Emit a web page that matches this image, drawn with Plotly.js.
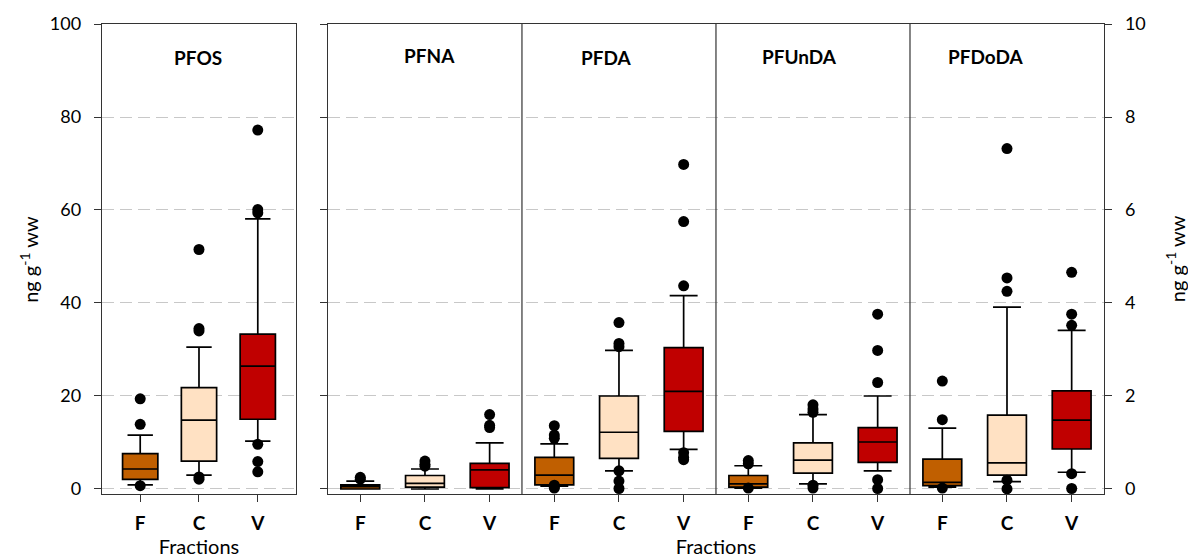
<!DOCTYPE html>
<html>
<head>
<meta charset="utf-8">
<script src="https://cdn.plot.ly/plotly-3.0.1.min.js"></script>
<style>html,body{margin:0;padding:0;background:#fff;}#chart{width:1188px;height:558px;}</style>
</head>
<body>
<div id="chart"></div>
<script>
// ---- data ----
const fractions = ['F', 'C', 'V'];
const fillColors = ['#C05F00', '#FFE1C3', '#C00000'];

// PFOS (left axis, ng g-1 ww), order F, C, V
const pfosQ1 = [2.05, 6.0, 15.0];
const pfosMedian = [4.3, 14.8, 26.4];
const pfosQ3 = [7.6, 21.8, 33.3];
const pfosLower = [0.9, 3.0, 10.3];
const pfosUpper = [11.6, 30.5, 58.1];
const pfosOutliersF = [19.4, 13.9, 0.7];
const pfosOutliersC = [51.5, 34.0, 34.5, 2.6, 2.1];
const pfosOutliersV = [77.2, 60.1, 59.4, 9.6, 5.9, 3.7];

// Right axis compounds
const compounds = ['PFNA', 'PFDA', 'PFUnDA', 'PFDoDA'];
// values per fraction, in compound order
const fQ1 = [0.0, 0.09, 0.04, 0.07];
const fMedian = [0.05, 0.30, 0.11, 0.14];
const fQ3 = [0.09, 0.68, 0.29, 0.64];
const fLower = [0.0, 0.06, 0.02, 0.04];
const fUpper = [0.17, 0.97, 0.50, 1.31];

const cQ1 = [0.04, 0.66, 0.34, 0.30];
const cMedian = [0.12, 1.22, 0.62, 0.56];
const cQ3 = [0.29, 2.00, 0.99, 1.59];
const cLower = [0.0, 0.39, 0.11, 0.16];
const cUpper = [0.43, 2.98, 1.60, 3.91];

const vQ1 = [0.03, 1.24, 0.57, 0.86];
const vMedian = [0.41, 2.10, 1.01, 1.48];
const vQ3 = [0.55, 3.04, 1.32, 2.11];
const vLower = [0.0, 0.85, 0.39, 0.36];
const vUpper = [0.99, 4.16, 2.00, 3.41];

// outliers per compound, per fraction
const pfnaOutliers = {F: [0.25, 0.21], C: [0.60, 0.53, 0.49], V: [1.60, 1.37, 1.32]};
const pfdaOutliers = {F: [1.36, 1.16, 1.09, 0.08, 0.04, 0.02], C: [3.58, 3.13, 3.06, 0.39, 0.17, 0.01], V: [6.98, 5.75, 4.37, 0.78, 0.68, 0.63]};
const pfundaOutliers = {F: [0.61, 0.54, 0.02], C: [1.81, 1.72, 1.65, 0.08, 0.02], V: [3.76, 2.98, 2.29, 0.20, 0.01]};
const pfdodaOutliers = {F: [2.32, 1.49, 0.02], C: [7.32, 4.54, 4.25, 0.19, 0.0], V: [4.66, 3.76, 3.52, 0.33, 0.01]};

const leftTicks = [0, 20, 40, 60, 80, 100];
const rightTicks = [0, 2, 4, 6, 8, 10];

// ---- build traces ----
const FONT = 'Lato, "Open Sans", sans-serif';
const traces = [];
const boxLine = {color: '#000', width: 1.7};

fractions.forEach((fr, i) => {
  traces.push({
    type: 'box', xaxis: 'x', yaxis: 'y', x: [i],
    q1: [pfosQ1[i]], median: [pfosMedian[i]], q3: [pfosQ3[i]],
    lowerfence: [pfosLower[i]], upperfence: [pfosUpper[i]],
    fillcolor: fillColors[i], line: boxLine, width: 0.6, whiskerwidth: 0.72,
    boxpoints: false, showlegend: false, hoverinfo: 'skip', name: 'PFOS ' + fr
  });
});
const pfosOut = [pfosOutliersF, pfosOutliersC, pfosOutliersV];
const lx = [], ly = [];
pfosOut.forEach((arr, i) => arr.forEach(v => { lx.push(i); ly.push(v); }));
traces.push({type: 'scatter', mode: 'markers', xaxis: 'x', yaxis: 'y', x: lx, y: ly,
  marker: {color: '#000', size: 11}, showlegend: false, hoverinfo: 'skip', cliponaxis: false});

const rightStats = [
  [fQ1, fMedian, fQ3, fLower, fUpper],
  [cQ1, cMedian, cQ3, cLower, cUpper],
  [vQ1, vMedian, vQ3, vLower, vUpper]
];
fractions.forEach((fr, i) => {
  const s = rightStats[i];
  traces.push({
    type: 'box', xaxis: 'x2', yaxis: 'y2',
    x: compounds.map((c, k) => k * 3 + i),
    q1: s[0], median: s[1], q3: s[2], lowerfence: s[3], upperfence: s[4],
    fillcolor: fillColors[i], line: boxLine, width: 0.6, whiskerwidth: 0.72,
    boxpoints: false, showlegend: false, hoverinfo: 'skip', name: fr
  });
});
const rOut = [pfnaOutliers, pfdaOutliers, pfundaOutliers, pfdodaOutliers];
const rx = [], ry = [];
rOut.forEach((o, k) => fractions.forEach((fr, i) => o[fr].forEach(v => { rx.push(k * 3 + i); ry.push(v); })));
traces.push({type: 'scatter', mode: 'markers', xaxis: 'x2', yaxis: 'y2', x: rx, y: ry,
  marker: {color: '#000', size: 11}, showlegend: false, hoverinfo: 'skip', cliponaxis: false});

// ---- layout ----
const axisLine = '#333';
const gridStyle = {showgrid: true, gridcolor: '#C8C8C8', griddash: '12px,6px', gridwidth: 1};
const tickFontNum = {family: FONT, size: 18, color: '#000'};
const tickFontCat = {family: FONT, size: 19, color: '#000', weight: 'bold'};
const titleFont = {family: FONT, size: 19, color: '#000', weight: 'bold'};
const axisTitleFont = {family: FONT, size: 20, color: '#000'};

const rightTickVals = [], rightTickText = [];
compounds.forEach((c, k) => fractions.forEach((fr, i) => { rightTickVals.push(k * 3 + i); rightTickText.push(fr); }));

const annotations = [];
annotations.push({xref: 'x', yref: 'paper', x: 0.98, y: 0.929, text: 'PFOS', showarrow: false,
  font: titleFont, xanchor: 'center', yanchor: 'middle'});
const titlePosX = [1.07, 3.8, 6.79, 9.67];
const titlePosY = [0.933, 0.928, 0.931, 0.931];
compounds.forEach((c, k) => annotations.push({xref: 'x2', yref: 'paper', x: titlePosX[k], y: titlePosY[k],
  text: c, showarrow: false, font: titleFont, xanchor: 'center', yanchor: 'middle'}));
annotations.push({xref: 'paper', yref: 'paper', x: -0.073, y: 0.5, text: 'ng g<sup>-1</sup> ww', textangle: -90,
  showarrow: false, font: axisTitleFont, xanchor: 'center', yanchor: 'middle'});
annotations.push({xref: 'paper', yref: 'paper', x: 1.071, y: 0.5, text: 'ng g<sup>-1</sup> ww', textangle: -90,
  showarrow: false, font: axisTitleFont, xanchor: 'center', yanchor: 'middle'});

const shapes = [2.5, 5.5, 8.5].map(xv => ({type: 'line', xref: 'x2', yref: 'paper', x0: xv, x1: xv, y0: 0, y1: 1,
  line: {color: '#333', width: 1.2}}));

const layout = {
  width: 1188, height: 558,
  margin: {l: 102, r: 84, t: 24, b: 64, pad: 0},
  paper_bgcolor: '#fff', plot_bgcolor: '#fff',
  font: {family: FONT, color: '#000'},
  showlegend: false,
  boxmode: 'overlay',
  xaxis: {
    domain: [0, 0.1936], range: [-0.65, 2.65], anchor: 'y',
    tickmode: 'array', tickvals: [0, 1, 2], ticktext: fractions,
    ticks: 'outside', ticklen: 7, tickcolor: axisLine, tickwidth: 1,
    showline: true, mirror: true, linecolor: axisLine, linewidth: 1.3,
    showgrid: false, zeroline: false, tickfont: tickFontCat, ticklabelstandoff: 5,
    title: {text: 'Fractions', font: axisTitleFont, standoff: 4}
  },
  yaxis: Object.assign({
    domain: [0, 1], range: [-1.08, 100], anchor: 'x',
    tickmode: 'array', tickvals: leftTicks,
    ticks: 'outside', ticklen: 7, tickcolor: axisLine, tickwidth: 1,
    showline: true, mirror: true, linecolor: axisLine, linewidth: 1.3,
    zeroline: false, tickfont: tickFontNum, ticklabelstandoff: 9
  }, gridStyle),
  xaxis2: {
    domain: [0.2255, 1], range: [-0.5, 11.5], anchor: 'y2',
    tickmode: 'array', tickvals: rightTickVals, ticktext: rightTickText,
    ticks: 'outside', ticklen: 7, tickcolor: axisLine, tickwidth: 1,
    showline: true, mirror: true, linecolor: axisLine, linewidth: 1.3,
    showgrid: false, zeroline: false, tickfont: tickFontCat, ticklabelstandoff: 5,
    title: {text: 'Fractions', font: axisTitleFont, standoff: 4}
  },
  yaxis2: Object.assign({
    domain: [0, 1], range: [-0.108, 10], anchor: 'x2', side: 'right',
    tickmode: 'array', tickvals: rightTicks,
    ticks: 'outside', ticklen: 7, tickcolor: axisLine, tickwidth: 1,
    showline: true, mirror: 'ticks', linecolor: axisLine, linewidth: 1.3,
    zeroline: false, tickfont: tickFontNum, ticklabelstandoff: 9
  }, gridStyle),
  annotations: annotations,
  shapes: shapes
};

Plotly.newPlot('chart', traces, layout, {staticPlot: true, displayModeBar: false});
</script>
</body>
</html>
